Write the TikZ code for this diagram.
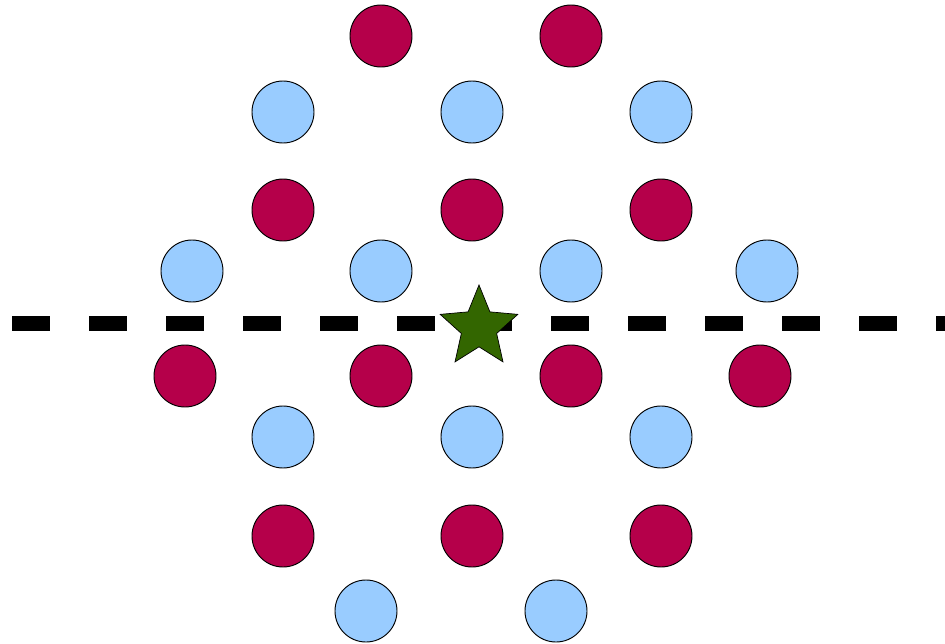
\documentclass[tikz,border=0pt]{standalone}
\usetikzlibrary{shapes.geometric}
\definecolor{redspin}{HTML}{B5004A}
\definecolor{bluespin}{HTML}{99CCFF}
\definecolor{stargreen}{HTML}{336600}
\begin{document}
\begin{tikzpicture}[x=0.03cm, y=-0.03cm,
  redatom/.style={circle, draw=black, line width=0.8pt, fill=redspin, minimum size=1.86cm, inner sep=0pt},
  blueatom/.style={circle, draw=black, line width=0.8pt, fill=bluespin, minimum size=1.86cm, inner sep=0pt}]
\useasboundingbox (0,0) rectangle (945,644);

% Draw the mirror line
\coordinate (ml) at (12,323);
\coordinate (mr) at (945,323);
\draw[line width=0.45cm, dash pattern=on 1.14cm off 1.17cm] (ml) -- (mr);

% Top half of the lattice
\node[redatom] (r11) at (381,36) {};
\node[redatom] (r12) at (571,36) {};
\node[blueatom] (b21) at (283,112) {};
\node[blueatom] (b22) at (472,112) {};
\node[blueatom] (b23) at (661,112) {};
\node[redatom] (r31) at (283,210) {};
\node[redatom] (r32) at (472,210) {};
\node[redatom] (r33) at (661,210) {};
\node[blueatom] (b41) at (192,271) {};
\node[blueatom] (b42) at (381,271) {};
\node[blueatom] (b43) at (571,271) {};
\node[blueatom] (b44) at (767,271) {};

% Bottom half of the lattice
\node[redatom] (r51) at (185,376) {};
\node[redatom] (r52) at (381,376) {};
\node[redatom] (r53) at (571,376) {};
\node[redatom] (r54) at (760,376) {};
\node[blueatom] (b61) at (283,437) {};
\node[blueatom] (b62) at (472,437) {};
\node[blueatom] (b63) at (661,437) {};
\node[redatom] (r71) at (283,536) {};
\node[redatom] (r72) at (472,536) {};
\node[redatom] (r73) at (661,536) {};
\node[blueatom] (b81) at (366,611) {};
\node[blueatom] (b82) at (556,611) {};

% The star marks the centre
\node[star, star points=5, star point ratio=2.2, minimum size=2.55cm, inner sep=0pt, xscale=0.96,
  draw=black, line width=0.6pt, fill=stargreen] (centre) at (479,327.5) {};
\end{tikzpicture}
\end{document}
